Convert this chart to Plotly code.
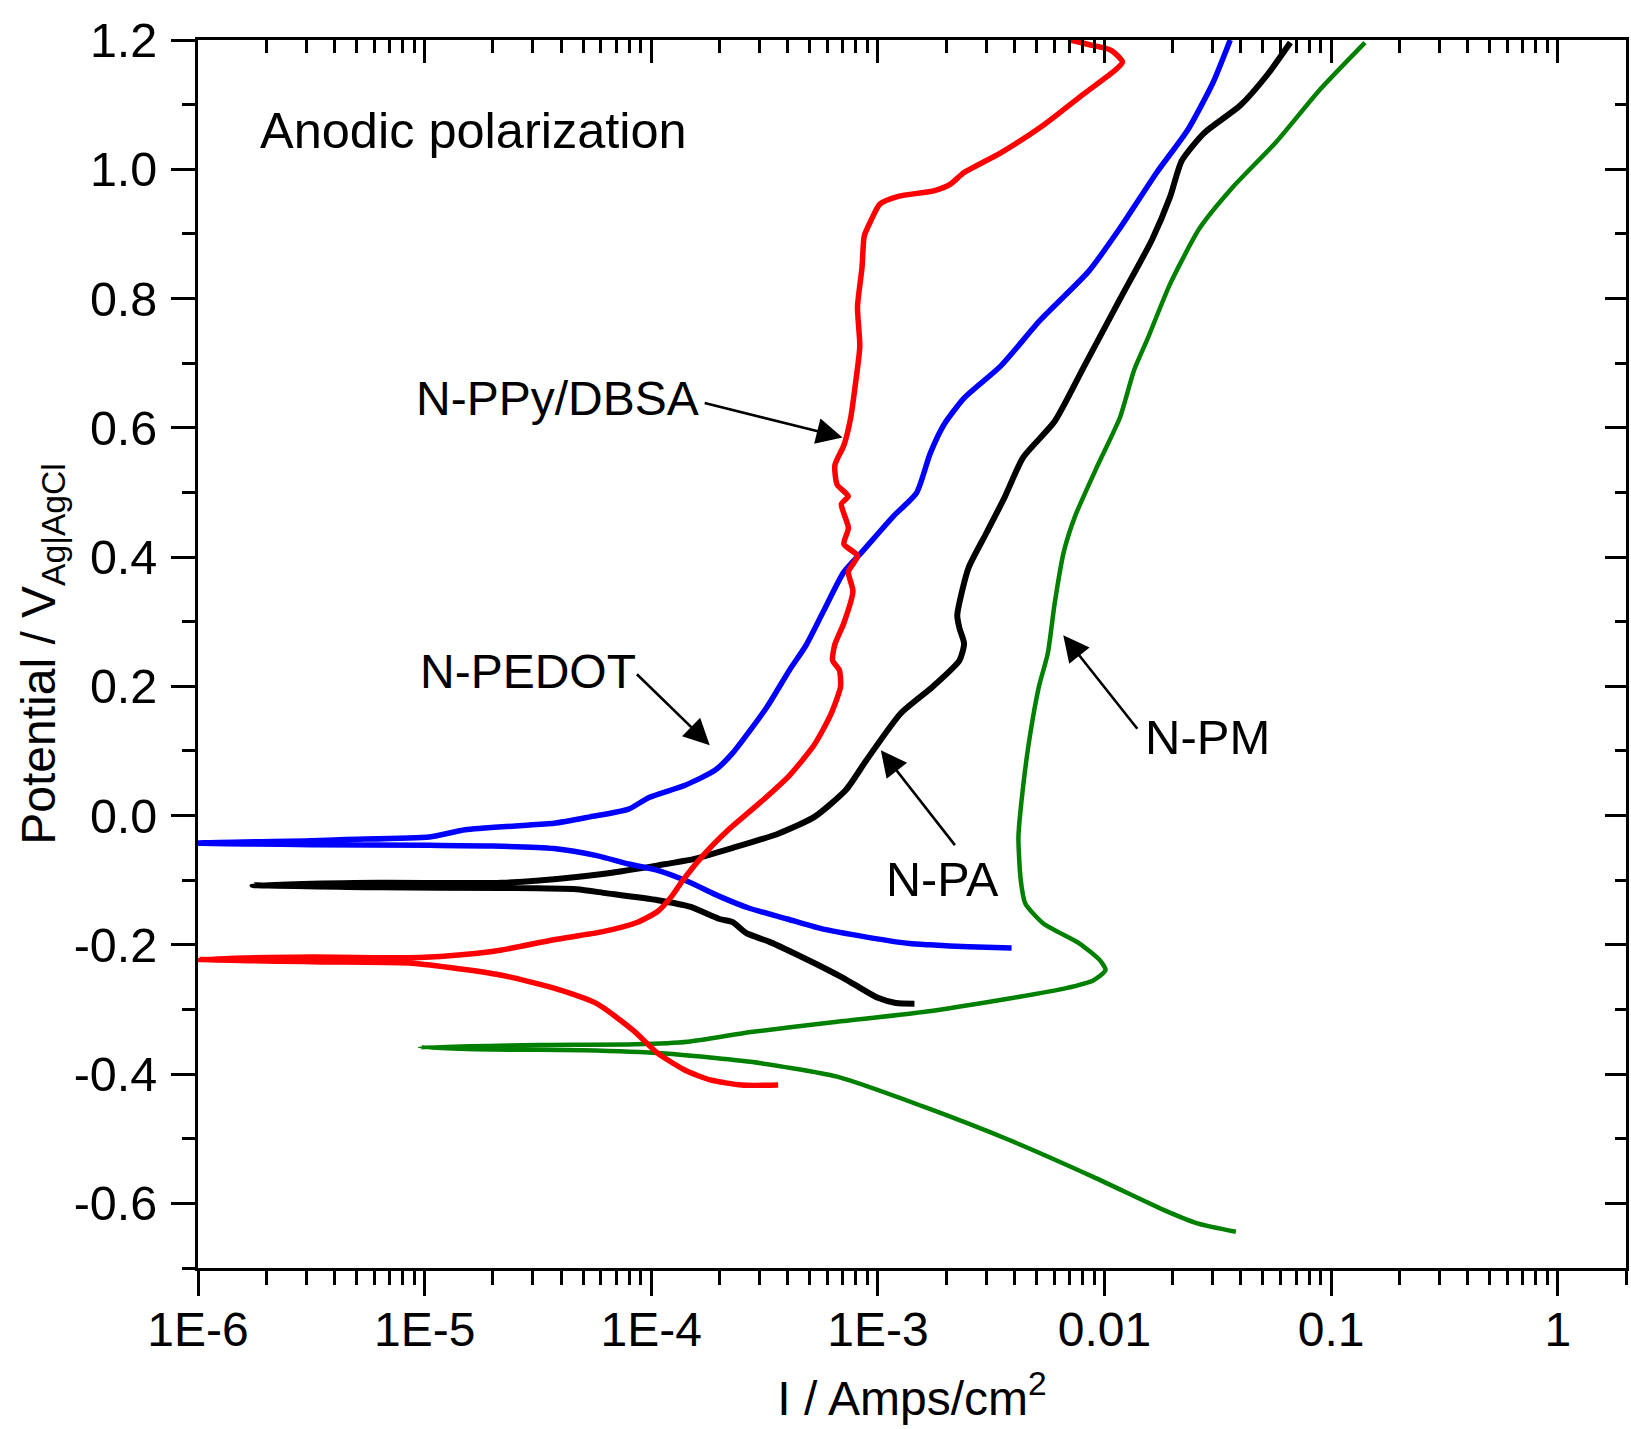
import plotly.graph_objects as go

# ---------------- data (I in A/cm^2, E in V vs Ag|AgCl) ----------------
# N-PPy/DBSA (red): cathodic branch (right->left) followed by anodic branch
ppy_I = [3.63e-4, 2.51e-4, 1.82e-4, 1.41e-4, 1.07e-4, 8.3e-5, 5.75e-5, 3.72e-5, 2.19e-5, 1.29e-5,
         8.5e-6, 3.16e-6, 1.0e-6,
         3.16e-6, 8.5e-6, 1.29e-5, 2.19e-5, 3.72e-5, 6.03e-5, 8.7e-5, 1.07e-4, 1.23e-4,
         1.38e-4, 1.66e-4, 2.19e-4, 3.02e-4, 4.07e-4, 5.25e-4, 6.17e-4, 6.84e-4, 6.76e-4, 6.31e-4,
         6.46e-4, 7.08e-4, 7.76e-4, 7.41e-4, 8.13e-4, 7.08e-4, 7.41e-4, 6.9e-4, 7.4e-4, 6.61e-4,
         6.46e-4, 7.08e-4, 7.59e-4, 7.94e-4, 8.32e-4, 8.13e-4, 8.51e-4, 8.71e-4, 9.33e-4, 1.02e-3,
         1.23e-3, 1.78e-3, 2.09e-3, 2.40e-3, 3.47e-3, 5.37e-3, 8.13e-3, 1.12e-2, 1.20e-2, 1.07e-2,
         8.51e-3, 7.08e-3]
ppy_E = [-0.417, -0.417, -0.409, -0.394, -0.368, -0.332, -0.291, -0.267, -0.247, -0.235,
         -0.228, -0.226, -0.2225,
         -0.219, -0.220, -0.217, -0.208, -0.192, -0.180, -0.165, -0.148, -0.125,
         -0.100, -0.065, -0.022, 0.020, 0.062, 0.110, 0.155, 0.199, 0.225, 0.240,
         0.265, 0.298, 0.347, 0.377, 0.402, 0.420, 0.445, 0.482, 0.494, 0.512,
         0.542, 0.573, 0.616, 0.665, 0.726, 0.787, 0.848, 0.897, 0.921, 0.946,
         0.958, 0.967, 0.977, 0.995, 1.025, 1.068, 1.117, 1.154, 1.166, 1.184,
         1.193, 1.200]

# N-PEDOT (blue)
pedot_I = [3.89e-3, 2.51e-3, 1.70e-3, 1.38e-3, 8.91e-4, 5.62e-4, 3.98e-4, 2.69e-4, 2.00e-4, 1.45e-4,
           1.05e-4, 7.94e-5, 5.75e-5, 3.72e-5, 2.0e-5, 1.05e-5, 3.16e-6, 1.0e-6,
           3.16e-6, 4.47e-6, 1.05e-5, 1.51e-5, 2.51e-5, 3.72e-5, 5.37e-5, 7.94e-5, 9.77e-5,
           1.41e-4, 1.91e-4, 2.29e-4, 3.24e-4, 4.07e-4, 4.79e-4, 5.75e-4, 7.08e-4, 8.51e-4, 1.17e-3,
           1.48e-3, 1.70e-3, 1.95e-3, 2.40e-3, 3.47e-3, 5.25e-3, 8.51e-3, 1.17e-2, 1.70e-2, 2.34e-2,
           3.02e-2, 3.55e-2, 3.59e-2]
pedot_E = [-0.205, -0.203, -0.200, -0.198, -0.188, -0.175, -0.160, -0.143, -0.125, -0.102,
           -0.084, -0.075, -0.062, -0.051, -0.047, -0.046, -0.045, -0.0425,
           -0.039, -0.037, -0.033, -0.022, -0.016, -0.012, -0.002, 0.010, 0.028,
           0.047, 0.070, 0.097, 0.168, 0.225, 0.262, 0.316, 0.377, 0.408, 0.463,
           0.499, 0.560, 0.604, 0.646, 0.695, 0.768, 0.842, 0.909, 0.995, 1.062,
           1.135, 1.196, 1.200]

# N-PA (black)
pa_I = [1.45e-3, 1.20e-3, 1.0e-3, 7.94e-4, 6.92e-4, 5.37e-4, 4.27e-4, 3.31e-4, 2.63e-4, 2.29e-4,
        2.0e-4, 1.48e-4, 1.07e-4, 6.31e-5, 4.68e-5, 2.19e-5, 6.31e-6, 1.74e-6,
        6.31e-6, 2.19e-5, 4.68e-5, 7.41e-5, 1.07e-4, 1.55e-4, 2.29e-4, 3.63e-4, 5.25e-4,
        7.24e-4, 8.91e-4, 1.26e-3, 1.74e-3, 2.29e-3, 2.40e-3, 2.29e-3, 2.24e-3, 2.51e-3, 3.02e-3,
        3.63e-3, 4.37e-3, 6.03e-3, 8.13e-3, 1.17e-2, 1.62e-2, 1.95e-2, 2.19e-2, 2.75e-2, 3.98e-2,
        5.25e-2, 6.61e-2]
pa_E = [-0.291, -0.290, -0.282, -0.262, -0.250, -0.230, -0.213, -0.195, -0.182, -0.165,
        -0.160, -0.141, -0.131, -0.120, -0.114, -0.112, -0.111, -0.1075,
        -0.104, -0.104, -0.095, -0.086, -0.077, -0.067, -0.050, -0.028, -0.002,
        0.040, 0.086, 0.158, 0.199, 0.240, 0.266, 0.290, 0.310, 0.383, 0.438,
        0.493, 0.554, 0.610, 0.695, 0.799, 0.891, 0.958, 1.013, 1.056, 1.099,
        1.147, 1.196]

# N-PM (green)
pm_I = [3.80e-2, 2.57e-2, 1.82e-2, 8.91e-3, 3.80e-3, 1.58e-3, 6.61e-4, 2.75e-4, 1.15e-4, 5.01e-5,
        2.0e-5, 9.55e-6,
        3.16e-5, 8.51e-5, 1.45e-4, 2.75e-4, 6.61e-4, 1.58e-3, 3.80e-3, 6.76e-3, 8.91e-3,
        1.01e-2, 9.55e-3, 7.76e-3, 5.37e-3, 4.47e-3, 4.27e-3, 4.17e-3, 4.37e-3, 4.68e-3, 5.13e-3,
        5.62e-3, 6.03e-3, 6.61e-3, 7.41e-3, 9.33e-3, 1.17e-2, 1.35e-2, 1.55e-2, 1.95e-2, 2.63e-2,
        3.63e-2, 5.75e-2, 8.91e-2, 1.41e-1]
pm_E = [-0.644, -0.631, -0.610, -0.559, -0.502, -0.450, -0.404, -0.381, -0.368, -0.363,
        -0.362, -0.3585,
        -0.355, -0.354, -0.350, -0.335, -0.319, -0.304, -0.283, -0.267, -0.255,
        -0.239, -0.224, -0.198, -0.167, -0.136, -0.100, -0.033, 0.044, 0.122, 0.199,
        0.251, 0.329, 0.408, 0.463, 0.542, 0.616, 0.689, 0.738, 0.823, 0.909,
        0.970, 1.043, 1.123, 1.196]

x_tickvals = [1e-6, 1e-5, 1e-4, 1e-3, 1e-2, 1e-1, 1]
x_ticktext = ["1E-6", "1E-5", "1E-4", "1E-3", "0.01", "0.1", "1"]
y_tickvals = [-0.6, -0.4, -0.2, 0.0, 0.2, 0.4, 0.6, 0.8, 1.0, 1.2]
y_ticktext = ["-0.6", "-0.4", "-0.2", "0.0", "0.2", "0.4", "0.6", "0.8", "1.0", "1.2"]

x_minor = [k * d for d in x_tickvals for k in range(2, 10) if k * d <= 2.0]
y_minor = [round(-0.7 + 0.1 * i, 2) for i in range(20)]

FONT = "Arial, Liberation Sans, Helvetica, sans-serif"
XR = [-6, 0.30103]
YR = [-0.7, 1.2]

fig = go.Figure()
series = [
    ("N-PA", pa_I, pa_E, "#000000", 6),
    ("N-PEDOT", pedot_I, pedot_E, "#0000FF", 5.5),
    ("N-PM", pm_I, pm_E, "#008000", 4.5),
    ("N-PPy/DBSA", ppy_I, ppy_E, "#FF0000", 5.5),
]
for name, xi, ye, col, w in series:
    fig.add_trace(go.Scatter(x=xi, y=ye, mode="lines", name=name,
                             line=dict(color=col, width=w, shape="spline", smoothing=0.6),
                             showlegend=False))

# invisible trace to host the mirrored (inside-tick) top/right axes
fig.add_trace(go.Scatter(x=[], y=[], xaxis="x2", yaxis="y2", showlegend=False, hoverinfo="skip"))

axis_common = dict(showgrid=False, zeroline=False, tickcolor="black", tickwidth=3)

fig.update_layout(
    width=1631, height=1429,
    margin=dict(l=198, r=2, t=40, b=161),
    paper_bgcolor="white", plot_bgcolor="white",
    font=dict(family=FONT, color="black"),
    xaxis=dict(type="log", range=XR, ticks="outside", ticklen=25, mirror=True, showline=True,
               linecolor="black", linewidth=3,
               tickvals=x_tickvals, ticktext=x_ticktext, tickfont=dict(size=48),
               ticklabelstandoff=-8,
               minor=dict(tickvals=x_minor, ticks="outside", ticklen=14, tickwidth=3, tickcolor="black"),
               title=dict(text="I / Amps/cm<sup>2</sup>", font=dict(size=48), standoff=27),
               **axis_common),
    yaxis=dict(range=YR, ticks="outside", ticklen=24, mirror=True, showline=True,
               linecolor="black", linewidth=3,
               tickvals=y_tickvals, ticktext=y_ticktext, tickfont=dict(size=48.5),
               ticklabelstandoff=4,
               minor=dict(tickvals=y_minor, ticks="outside", ticklen=13, tickwidth=3, tickcolor="black"),
               title=dict(text="Potential / V<sub>Ag|AgCl</sub>", font=dict(size=48), standoff=3),
               **axis_common),
    xaxis2=dict(type="log", range=XR, overlaying="x", side="top", anchor="y2", ticks="inside",
                ticklen=23, tickvals=x_tickvals, showticklabels=False, showline=False,
                minor=dict(tickvals=x_minor, ticks="inside", ticklen=13, tickwidth=3, tickcolor="black"),
                **axis_common),
    yaxis2=dict(range=YR, overlaying="y", side="right", anchor="x2", ticks="inside",
                ticklen=21, tickvals=y_tickvals, showticklabels=False, showline=False,
                minor=dict(tickvals=y_minor, ticks="inside", ticklen=11, tickwidth=3, tickcolor="black"),
                **axis_common),
)

texts = [
    ("Anodic polarization", -5.735, 1.060, 50.5),
    ("N-PPy/DBSA", -5.045, 0.646, 48),
    ("N-PEDOT", -5.029, 0.223, 48),
    ("N-PA", -2.971, -0.098, 48.5),
    ("N-PM", -1.829, 0.122, 49),
]
for t, x, y, s in texts:
    fig.add_annotation(x=x, y=y, xref="x", yref="y", text=t, showarrow=False,
                       xanchor="left", yanchor="middle",
                       font=dict(family=FONT, size=s, color="black"))

arrows = [  # (head_x(log), head_y, tail_x(log), tail_y)
    (-3.156, 0.585, -3.771, 0.639),
    (-3.742, 0.109, -4.070, 0.221),
    (-2.987, 0.101, -2.655, -0.048),
    (-2.182, 0.279, -1.850, 0.132),
]
for hx, hy, tx, ty in arrows:
    fig.add_annotation(x=hx, y=hy, ax=tx, ay=ty, xref="x", yref="y", axref="x", ayref="y",
                       text="", showarrow=True, arrowhead=2, arrowsize=2.0, arrowwidth=2.6,
                       arrowcolor="black", standoff=0, startstandoff=0)

fig.write_html("out.html")
